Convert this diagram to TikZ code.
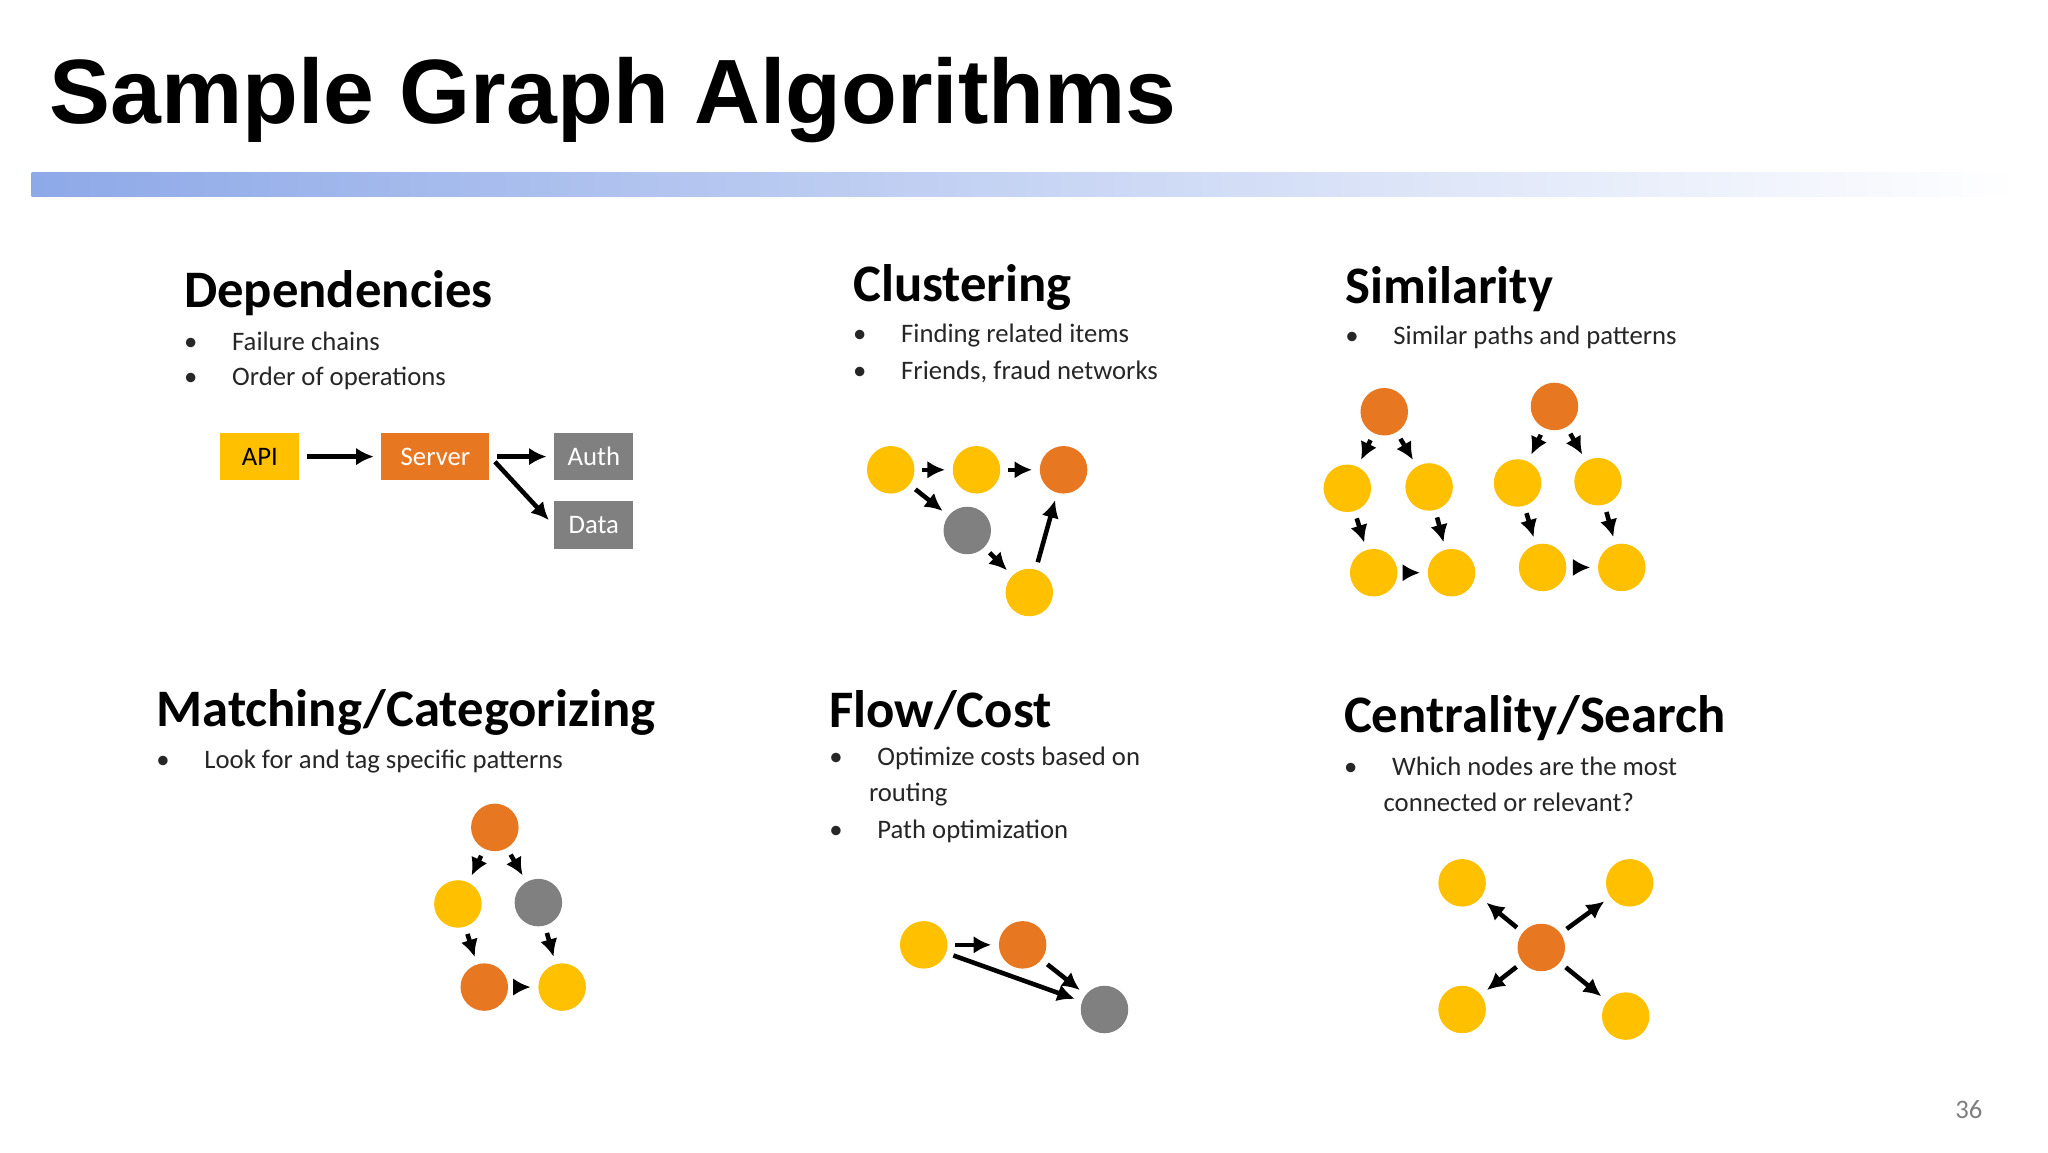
\documentclass[tikz,border=0pt]{standalone}
\usepackage{fontspec}
\setmainfont{Carlito}
\newfontfamily\titlefont{Liberation Sans}
\usetikzlibrary{arrows.meta}
\definecolor{yel}{HTML}{FFC000}
\definecolor{org}{HTML}{E87722}
\definecolor{gry}{HTML}{808080}
\definecolor{barc}{HTML}{8EA9E8}
\begin{document}
\begin{tikzpicture}[x=0.013196cm,y=-0.013196cm,
  yc/.style={circle,fill=yel,minimum size=36\pgflinewidth,inner sep=0pt,minimum size=0.475cm},
  oc/.style={yc,fill=org},
  gc/.style={yc,fill=gry},
  ar/.style={-{Latex[length=5pt,width=5pt]},line width=1.3pt,shorten >=2pt,shorten <=2pt},
  hd/.style={anchor=west,font=\bfseries\fontsize{15}{18}\selectfont,inner sep=0pt},
  bl/.style={anchor=west,font=\fontsize{7.6}{9}\selectfont,inner sep=0pt,text=black!85},
  bx/.style={minimum height=0.475cm,inner sep=0pt,font=\fontsize{7.6}{9}\selectfont}]
\useasboundingbox (0,0) rectangle (1552,873);
\fill[white] (0,0) rectangle (1552,873);
\shade[left color=barc,right color=white] (24,131) rectangle (1530,149);
\node[anchor=west,inner sep=0pt,font=\titlefont\bfseries\fontsize{26}{30}\selectfont] (title) at (37,76) {Sample Graph Algorithms};
\node[text=gray,font=\fontsize{7.6}{9}\selectfont] (pg) at (1492,841) {36};

% Dependencies
\node[hd] (h1) at (139,222) {Dependencies};
\node[bl] (b1a) at (139,259) {•\hspace{1.3em}Failure chains};
\node[bl] (b1b) at (139,287) {•\hspace{1.3em}Order of operations};
\node[bx,fill=yel,minimum width=0.79cm] (api) at (197,346) {API};
\node[bx,fill=org,text=white,minimum width=1.08cm] (srv) at (330,346) {Server};
\node[bx,fill=gry,text=white,minimum width=0.79cm] (auth) at (450,346) {Auth};
\node[bx,fill=gry,text=white,minimum width=0.79cm] (data) at (450,398) {Data};
\draw[ar] (api) -- (srv);
\draw[ar] (srv.east) -- (auth.west);
\draw[ar] (srv.east) -- (data.west);

% Clustering
\node[hd] (h2) at (646,218) {Clustering};
\node[bl] (b2a) at (646,254) {•\hspace{1.3em}Finding related items};
\node[bl] (b2b) at (646,282) {•\hspace{1.3em}Friends, fraud networks};
\node[yc] (c1) at (675,356) {};
\node[yc] (c2) at (740,356) {};
\node[oc] (c3) at (806,356) {};
\node[gc] (c4) at (733,402) {};
\node[yc] (c5) at (780,449) {};
\draw[ar] (c1)--(c2); \draw[ar] (c2)--(c3); \draw[ar] (c1)--(c4);
\draw[ar] (c4)--(c5); \draw[ar] (c5)--(c3);

% Similarity
\node[hd] (h3) at (1019,219) {Similarity};
\node[bl] (b3a) at (1019,256) {•\hspace{1.3em}Similar paths and patterns};
\node[oc] (s1) at (1049,312) {};
\node[yc] (s2) at (1021,370) {};
\node[yc] (s3) at (1083,369) {};
\node[yc] (s4) at (1041,434) {};
\node[yc] (s5) at (1100,434) {};
\draw[ar] (s1)--(s2); \draw[ar] (s1)--(s3); \draw[ar] (s2)--(s4);
\draw[ar] (s3)--(s5); \draw[ar] (s4)--(s5);
\node[oc] (t1) at (1178,308) {};
\node[yc] (t2) at (1150,366) {};
\node[yc] (t3) at (1211,365) {};
\node[yc] (t4) at (1169,430) {};
\node[yc] (t5) at (1229,430) {};
\draw[ar] (t1)--(t2); \draw[ar] (t1)--(t3); \draw[ar] (t2)--(t4);
\draw[ar] (t3)--(t5); \draw[ar] (t4)--(t5);

% Matching
\node[hd] (h4) at (118,540) {Matching/Categorizing};
\node[bl] (b4a) at (118,577) {•\hspace{1.3em}Look for and tag specific patterns};
\node[oc] (m1) at (375,627) {};
\node[yc] (m2) at (347,685) {};
\node[gc] (m3) at (408,684) {};
\node[oc] (m4) at (367,748) {};
\node[yc] (m5) at (426,748) {};
\draw[ar] (m1)--(m2); \draw[ar] (m1)--(m3); \draw[ar] (m2)--(m4);
\draw[ar] (m3)--(m5); \draw[ar] (m4)--(m5);

% Flow/Cost
\node[hd] (h5) at (628,538) {Flow/Cost};
\node[bl] (b5a) at (628,575) {•\hspace{1.3em}Optimize costs based on};
\node[bl] (b5b) at (658,602) {routing};
\node[bl] (b5c) at (628,630) {•\hspace{1.3em}Path optimization};
\node[yc] (f1) at (700,716) {};
\node[oc] (f2) at (775,716) {};
\node[gc] (f3) at (837,765) {};
\draw[ar] (f1)--(f2); \draw[ar] (f2)--(f3); \draw[ar] (f1)--(f3);

% Centrality
\node[hd] (h6) at (1018,544) {Centrality/Search};
\node[bl] (b6a) at (1018,581) {•\hspace{1.3em}Which nodes are the most};
\node[bl] (b6b) at (1048,608) {connected or relevant?};
\node[oc] (z0) at (1168,718) {};
\node[yc] (z1) at (1108,669) {};
\node[yc] (z2) at (1235,669) {};
\node[yc] (z3) at (1108,765) {};
\node[yc] (z4) at (1232,770) {};
\draw[ar] (z0)--(z1); \draw[ar] (z0)--(z2); \draw[ar] (z0)--(z3); \draw[ar] (z0)--(z4);
\end{tikzpicture}
\end{document}
